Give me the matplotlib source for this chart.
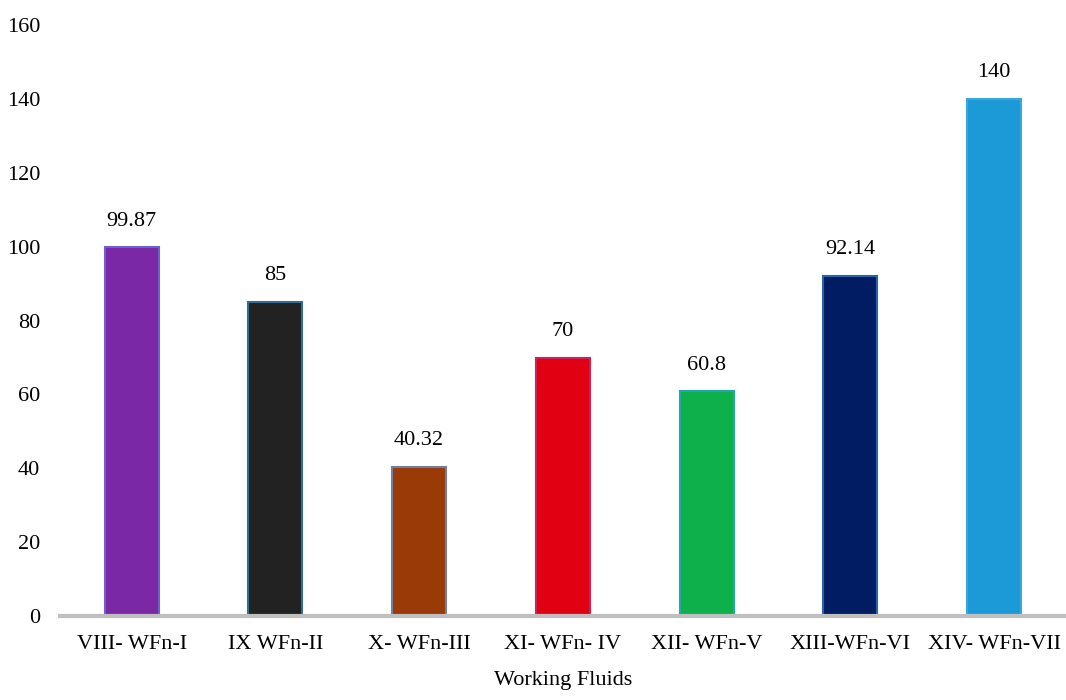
import matplotlib
matplotlib.use("Agg")
import matplotlib.pyplot as plt

# data
fluids = ["VIII- WFn-I", "IX WFn-II", "X- WFn-III", "XI- WFn- IV",
          "XII- WFn-V", "XIII-WFn-VI", "XIV- WFn-VII"]
values = [99.87, 85, 40.32, 70, 60.8, 92.14, 140]
value_labels = ["99.87", "85", "40.32", "70", "60.8", "92.14", "140"]
colors = ["#7B28A6", "#222222", "#9A3A06", "#E00012", "#0DB04B", "#021C63", "#1C9AD8"]
edges = ["#6A62C8", "#2F6F94", "#6E7FA0", "#C8245A", "#22A8A8", "#2A64A8", "#3AA6DC"]

plt.rcParams["font.family"] = ["Liberation Serif", "DejaVu Serif"]

fig = plt.figure(figsize=(10.66, 7), dpi=100)
ax = fig.add_axes([0.056, 0.12, 0.944, 0.844])

x = range(len(fluids))
ax.bar(x, values, width=0.375, color=colors, edgecolor=edges, linewidth=1.5, zorder=2)

# value labels above the bars
for i, v in enumerate(values):
    ax.annotate(value_labels[i], (i, v), xytext=(0, 12), textcoords="offset points",
                ha="center", va="bottom", fontsize=16)

ax.set_xlim(-0.5, len(fluids) - 0.5)
ax.set_ylim(0, 160)
ax.set_yticks(range(0, 161, 20))
ax.set_xticks(list(x))
ax.set_xticklabels(fluids)
ax.tick_params(axis="both", length=0, labelsize=16)
ax.tick_params(axis="y", pad=14)
ax.tick_params(axis="x", pad=14)
ax.set_xlabel("Working Fluids", fontsize=16, labelpad=12)

for s in ["top", "right", "left"]:
    ax.spines[s].set_visible(False)
ax.spines["bottom"].set_color("#BFBFBF")
ax.spines["bottom"].set_linewidth(3)

fig.savefig("out.png", dpi=100)
